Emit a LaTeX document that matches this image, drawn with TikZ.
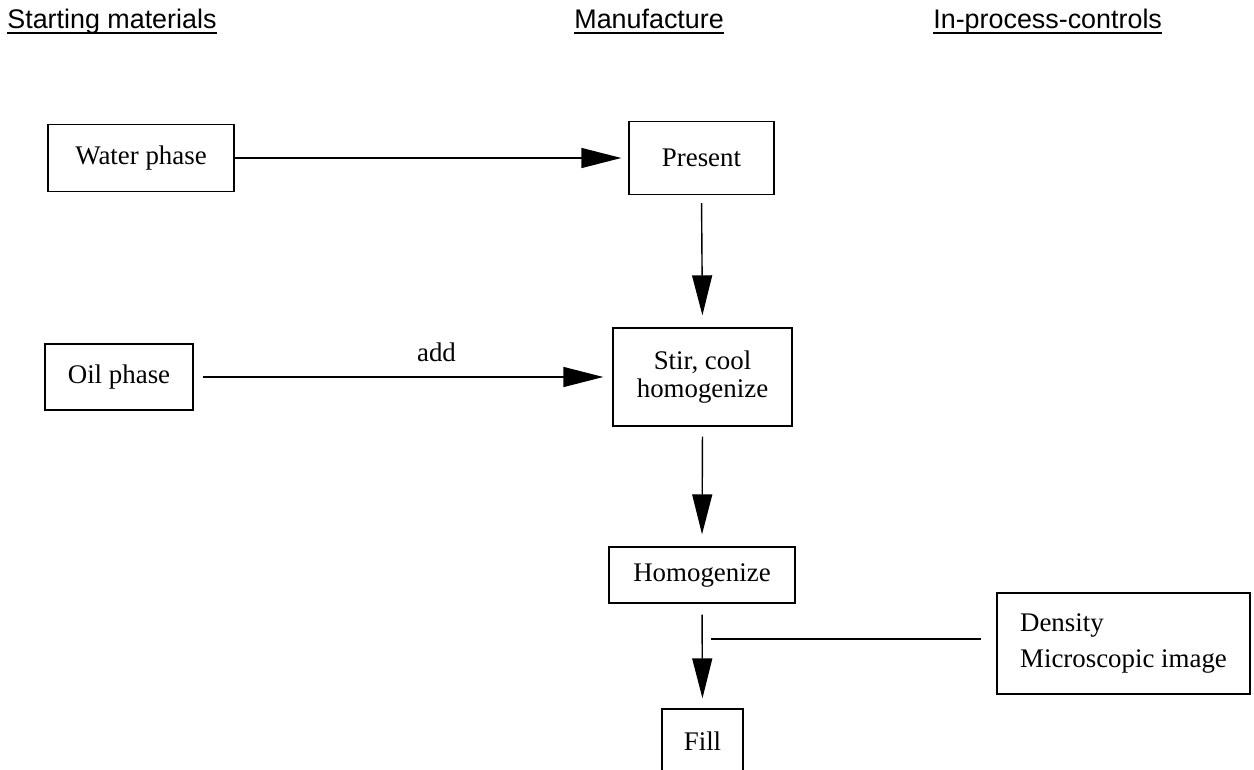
\documentclass[tikz,border=0pt]{standalone}
\usepackage{fontspec}
\setmainfont{Liberation Serif}
\newfontfamily\headfont{Liberation Sans}
\usetikzlibrary{arrows.meta}

\begin{document}
\begin{tikzpicture}[
        x=0.02cm, y=-0.02cm,
        every node/.style={font=\fontsize{15.3}{16.4}\selectfont},
        box/.style={draw, line width=0.8pt, inner sep=0pt, text centered, align=center},
        head/.style={anchor=base west, inner sep=0pt, font=\headfont\fontsize{15.3}{16.4}\selectfont},
        flow/.style={draw, line width=0.8pt, -{Triangle[length=0.8cm, width=0.4cm]}},
        tapline/.style={draw, line width=0.8pt},
    ]
    \useasboundingbox (0,0) rectangle (1254,770);
    % column headings
    \node[head](hstart) at (7,29){Starting materials};
    \node[head](hmanu) at (574,29){Manufacture};
    \node[head](hipc) at (933,29){In-process-controls};
    \foreach \h in {hstart,hmanu,hipc}
        \draw[line width=1.1pt] ([yshift=-0.08cm]\h.base west) -- ([yshift=-0.08cm]\h.base east);
    % boxes
    \node[box, minimum width=3.72cm, minimum height=1.34cm](water) at (141,158){Water phase};
    \node[box, minimum width=2.9cm, minimum height=1.46cm](present) at (701.5,158){Present};
    \node[box, minimum width=2.96cm, minimum height=1.32cm](oil) at (119,377){Oil phase};
    \node[box, minimum width=3.58cm, minimum height=1.96cm](stir) at (702.5,377){Stir, cool\\homogenize};
    \node[box, minimum width=3.72cm, minimum height=1.12cm](homog) at (702,575){Homogenize};
    \node[box, minimum width=1.62cm, minimum height=1.28cm](fill) at (702.5,741){Fill};
    \node[box, align=left, minimum width=5.06cm, minimum height=2.02cm](ipc) at (1123.5,643.5){Density\\[0.16cm]Microscopic image};
    % connectors
    \draw[flow, shorten >=0.14cm] (water.east) -- (present.west);
    \draw[flow, shorten <=0.16cm, shorten >=0.24cm] (present.south) -- (stir.north);
    \draw[flow, shorten <=0.18cm, shorten >=0.18cm] (oil.east) -- (stir.west)
        node[pos=0.58, above=0.3cm, inner sep=0pt](add){add};
    \draw[flow, shorten <=0.2cm, shorten >=0.24cm] (stir.south) -- (homog.north);
    \draw[flow, shorten <=0.22cm, shorten >=0.2cm] (homog.south) -- (fill.north);
    \coordinate (tap) at (711,639);
    \draw[tapline, shorten >=0.3cm] (tap) -- (tap -| ipc.west);
\end{tikzpicture}
\end{document}
